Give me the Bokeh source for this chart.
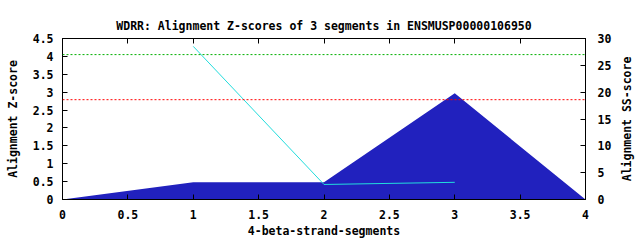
import math
from bokeh.plotting import figure
from bokeh.layouts import row
from bokeh.models import LinearAxis, Range1d, FixedTicker, Span
from bokeh.embed import file_html
from bokeh.resources import INLINE

title = "WDRR: Alignment Z-scores of 3 segments in ENSMUSP00000106950"
x_label = "4-beta-strand-segments"
y_label = "Alignment Z-score"
y2_label = "Alignment SS-score"

x_ticks = [0, 0.5, 1, 1.5, 2, 2.5, 3, 3.5, 4]
x_tick_labels = ["0", "0.5", "1", "1.5", "2", "2.5", "3", "3.5", "4"]
y_ticks = [0, 0.5, 1, 1.5, 2, 2.5, 3, 3.5, 4, 4.5]
y_tick_labels = ["0", "0.5", "1", "1.5", "2", "2.5", "3", "3.5", "4", "4.5"]
y2_ticks = [0, 5, 10, 15, 20, 25, 30]

# SS-score profile (filled area, right axis)
ss_x = [0, 1, 2, 3, 4]
ss_y = [0, 3.2, 3.2, 19.8, 0]

# Z-score line (left axis)
z_x = [1, 2, 3]
z_y = [4.28, 0.42, 0.48]

# threshold lines (left axis units)
green_thr = 4.05
red_thr = 2.79

FONT = "DejaVu Sans Mono"
FS = "11.5px"

p = figure(width=614, height=240, output_backend="svg", toolbar_location=None,
           x_range=Range1d(0, 4), y_range=Range1d(0, 4.5),
           min_border_left=62, min_border_right=29, min_border_top=38, min_border_bottom=40)
p.extra_y_ranges = {"ss": Range1d(0, 30)}
p.xgrid.visible = False
p.ygrid.visible = False
p.outline_line_color = "black"
p.outline_line_alpha = 1
p.background_fill_color = "white"
p.border_fill_color = "white"

p.title.text = title
p.title.align = "center"
p.title.text_font = FONT
p.title.text_font_size = FS
p.title.text_font_style = "bold"
p.title.text_color = "black"
p.title.standoff = 12

def style(ax):
    ax.major_tick_in = 5
    ax.major_tick_out = 0
    ax.minor_tick_in = 0
    ax.minor_tick_out = 0
    ax.axis_line_color = "black"
    ax.major_tick_line_color = "black"
    ax.major_label_text_font = FONT
    ax.major_label_text_font_size = FS
    ax.major_label_text_font_style = "bold"
    ax.major_label_text_color = "black"
    ax.axis_label_text_font = FONT
    ax.axis_label_text_font_size = FS
    ax.axis_label_text_font_style = "bold"
    ax.axis_label_text_color = "black"

xa = p.xaxis[0]
style(xa)
xa.ticker = FixedTicker(ticks=x_ticks)
xa.major_label_overrides = {t: s for t, s in zip(x_ticks, x_tick_labels)}
xa.axis_label = x_label
xa.major_label_standoff = 10
xa.axis_label_standoff = 2

ya = p.yaxis[0]
style(ya)
ya.ticker = FixedTicker(ticks=y_ticks)
ya.major_label_overrides = {t: s for t, s in zip(y_ticks, y_tick_labels)}
ya.axis_label = y_label
ya.major_label_standoff = 9
ya.axis_label_standoff = 10

ra = LinearAxis(y_range_name="ss", ticker=FixedTicker(ticks=y2_ticks))
style(ra)
ra.major_label_standoff = 12
ra.major_label_orientation = "horizontal"
p.add_layout(ra, "right")

ta = LinearAxis(ticker=FixedTicker(ticks=x_ticks))
style(ta)
ta.major_label_text_font_size = "1px"
ta.major_label_text_color = None
ta.major_label_standoff = 0
p.add_layout(ta, "above")

p.varea(x=ss_x, y1=[0] * len(ss_x), y2=ss_y, y_range_name="ss", fill_color="#2121be", fill_alpha=1)

p.add_layout(Span(location=green_thr, dimension="width", line_color="#00b000", line_dash="2 2", line_width=1))
p.add_layout(Span(location=red_thr, dimension="width", line_color="#ff0000", line_dash="2 2", line_width=1))

p.line(z_x, z_y, line_color="#22dddd", line_width=1)

# narrow companion figure carrying the right-hand axis title (reads bottom-to-top)
p2 = figure(width=26, height=240, output_backend="svg", toolbar_location=None,
            x_range=Range1d(0, 1), y_range=Range1d(0, 1),
            min_border_left=20, min_border_right=0, min_border_top=38, min_border_bottom=40)
p2.xaxis.visible = False
p2.xgrid.visible = False
p2.ygrid.visible = False
p2.outline_line_color = None
p2.background_fill_color = "white"
p2.border_fill_color = "white"
ax2 = p2.yaxis[0]
style(ax2)
ax2.ticker = FixedTicker(ticks=[])
ax2.axis_line_color = None
ax2.major_tick_line_color = None
ax2.major_tick_in = 0
ax2.major_label_standoff = 0
ax2.axis_label = y2_label
ax2.axis_label_standoff = 1

layout = row(p, p2, spacing=0)
open("out.html", "w").write(file_html(layout, INLINE))
